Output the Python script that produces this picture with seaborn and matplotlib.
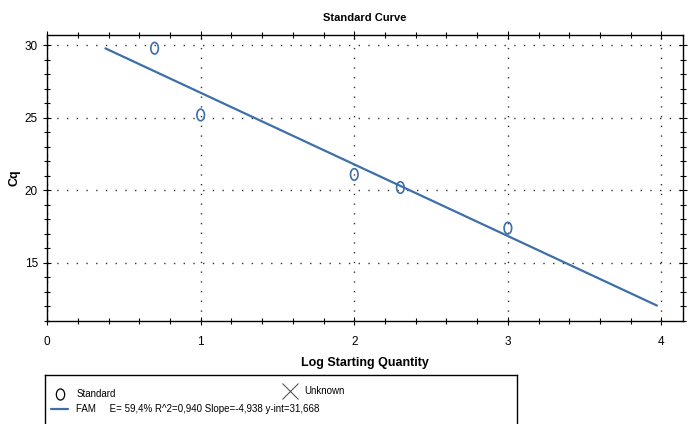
import matplotlib
matplotlib.use("Agg")
import matplotlib.pyplot as plt
import matplotlib.lines as mlines
from matplotlib.path import Path
from matplotlib.transforms import Affine2D
from matplotlib.ticker import MultipleLocator
import numpy as np
import pandas as pd
import seaborn as sns

# data
log_qty = [0.70, 1.00, 2.00, 2.30, 3.00]
cq = [29.8, 25.2, 21.1, 20.2, 17.4]
slope = -4.938
y_int = 31.668
fit_range = [0.38, 3.97]

x_ticks = [0, 1, 2, 3, 4]
y_ticks = [15, 20, 25, 30]
fit_label = "E= 59,4% R^2=0,940 Slope=-4,938 y-int=31,668"

blue = "#3f6fa8"

sns.set_theme(style="white")
plt.rcParams["font.family"] = ["Liberation Sans", "DejaVu Sans"]
plt.rcParams["text.color"] = "black"
plt.rcParams["axes.labelcolor"] = "black"
plt.rcParams["xtick.color"] = "black"
plt.rcParams["ytick.color"] = "black"

df = pd.DataFrame({"x": log_qty, "y": cq})
fit = pd.DataFrame({"x": fit_range})
fit["y"] = y_int + slope * fit["x"]

# tall open ellipse marker like the original
ell = Path.unit_circle().transformed(Affine2D().scale(0.65, 1.0))

fig = plt.figure(figsize=(6.92, 4.24), dpi=100)
ax = fig.add_axes([0.068, 0.243, 0.919, 0.674])

sns.lineplot(data=fit, x="x", y="y", ax=ax, color=blue, linewidth=1.6)
sns.scatterplot(data=df, x="x", y="y", ax=ax, marker=ell, s=70,
                facecolor="none", edgecolor=blue, linewidth=1.2, zorder=3)

ax.set_xlim(0, 4.14)
ax.set_ylim(11.0, 30.7)
ax.set_xticks(x_ticks)
ax.set_yticks(y_ticks)
ax.xaxis.set_minor_locator(MultipleLocator(0.2))
ax.yaxis.set_minor_locator(MultipleLocator(1))
ax.tick_params(which="both", direction="inout", top=True, right=True,
               bottom=True, left=True, labelsize=8.5, color="black", width=0.8)
ax.tick_params(which="major", length=6)
ax.tick_params(which="minor", length=4)
ax.tick_params(axis="x", pad=8)
ax.grid(True, which="major", linestyle=(0, (1, 6)), color="#333333", linewidth=1.0)
for s in ax.spines.values():
    s.set_color("black")
    s.set_linewidth(1.0)

ax.set_title("Standard Curve", fontsize=8, fontweight="bold", pad=10)
ax.set_xlabel("Log Starting Quantity", fontsize=9, fontweight="bold", labelpad=6)
ax.set_ylabel("Cq", fontsize=9, fontweight="bold", labelpad=3)

# legend box at the bottom
lax = fig.add_axes([0.065, -0.05, 0.682, 0.166])
lax.set_xticks([])
lax.set_yticks([])
lax.set_facecolor("white")
for s in lax.spines.values():
    s.set_color("black")
    s.set_linewidth(1.0)

ell_small = Path.unit_circle().transformed(Affine2D().scale(0.75, 1.0))
h_std = mlines.Line2D([], [], linestyle="none", marker=ell_small, markersize=8,
                      markerfacecolor="none", markeredgecolor="black",
                      markeredgewidth=0.9, label="Standard")
h_fam = mlines.Line2D([], [], color=blue, linewidth=1.6,
                      label="FAM     " + fit_label)
h_unk = mlines.Line2D([], [], linestyle="none", marker="x", markersize=11,
                      color="#444444", markeredgewidth=0.7, label="Unknown")
leg1 = lax.legend(handles=[h_std, h_fam], loc="upper left",
                  bbox_to_anchor=(0.0, 0.88), frameon=False, fontsize=7,
                  handlelength=1.8, handletextpad=0.8, borderaxespad=0.2,
                  labelspacing=0.55)
lax.add_artist(leg1)
lax.legend(handles=[h_unk], loc="upper left", bbox_to_anchor=(0.495, 0.92),
           frameon=False, fontsize=7, handlelength=1.2, handletextpad=0.8,
           borderaxespad=0.2)

fig.savefig("out.png", dpi=100)
